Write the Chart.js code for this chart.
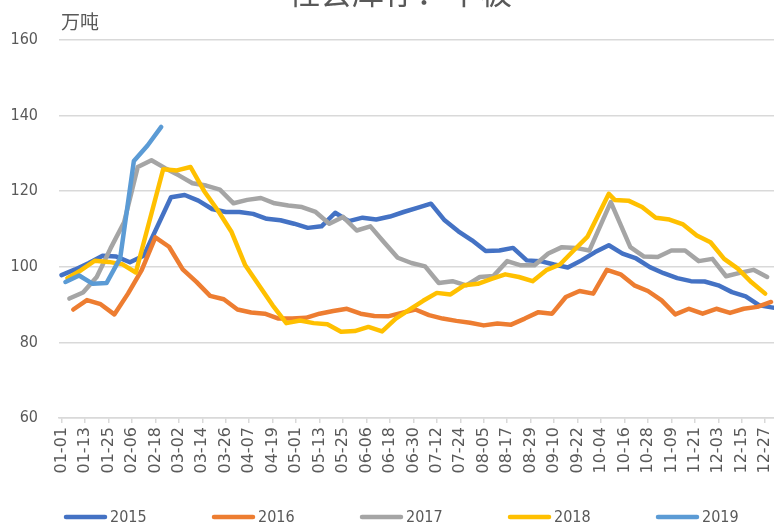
<!DOCTYPE html>
<html>
<head>
<meta charset="utf-8">
<script src="https://cdn.jsdelivr.net/npm/chart.js@4/dist/chart.umd.min.js"></script>
<style>
  body { margin: 0; background: #fff; }
  canvas { display: block; }
</style>
</head>
<body>
<canvas id="chart" width="774" height="526"></canvas>
<script>
// weekly stock, 万吨, by release date (MM-DD) for each year
const dates2015 = ['01-01','01-08','01-15','01-22','01-29','02-05','02-12','02-26','03-05','03-12','03-19','03-26',
  '04-02','04-09','04-16','04-23','04-30','05-07','05-14','05-21','05-28','06-04','06-11','06-18','06-25',
  '07-02','07-09','07-16','07-23','07-30','08-06','08-13','08-20','08-27','09-03','09-10','09-17','09-24',
  '10-01','10-08','10-15','10-22','10-29','11-05','11-12','11-19','11-26','12-03','12-10','12-17','12-24','12-31'];
const values2015 = [97.8,99.3,101,102.9,102.7,101.2,102.9,118.4,119,117.5,115.3,114.5,
  114.5,114,112.7,112.3,111.4,110.3,110.7,114.3,112.1,113,112.5,113.3,114.5,
  115.6,116.7,112.3,109.4,107,104.2,104.3,105,101.7,101.5,100.6,99.8,101.7,
  103.9,105.7,103.5,102.2,99.9,98.3,97,96.2,96.1,95.1,93.3,92.2,89.8,89.2];

const dates2016 = ['01-07','01-14','01-21','01-28','02-04','02-11','02-18','02-25','03-03','03-10','03-17','03-24','03-31',
  '04-07','04-14','04-21','04-28','05-05','05-12','05-19','05-26','06-02','06-09','06-16','06-23','06-30',
  '07-07','07-14','07-21','07-28','08-04','08-11','08-18','08-25','09-01','09-08','09-15','09-22','09-29',
  '10-06','10-13','10-20','10-27','11-03','11-10','11-17','11-24','12-01','12-08','12-15','12-22','12-29'];
const values2016 = [88.7,91.2,90.1,87.4,92.9,99.1,107.8,105.3,99.3,96,92.3,91.4,88.7,
  87.9,87.6,86.3,86.3,86.5,87.6,88.3,88.9,87.6,87,86.9,87.8,88.7,
  87.2,86.3,85.7,85.2,84.5,85,84.7,86.3,88,87.6,92,93.6,92.9,
  99.2,98,95.1,93.6,91.1,87.4,88.9,87.6,88.9,87.8,88.9,89.4,90.7];

const dates2017 = ['01-05','01-12','01-19','01-26','02-02','02-09','02-16','02-23','03-02','03-09','03-16','03-23','03-30',
  '04-06','04-13','04-20','04-27','05-04','05-11','05-18','05-25','06-01','06-08','06-15','06-22','06-29',
  '07-06','07-13','07-20','07-27','08-03','08-10','08-17','08-24','08-31','09-07','09-14','09-21','09-28',
  '10-09','10-19','10-26','11-02','11-09','11-16','11-23','11-30','12-07','12-14','12-21','12-28'];
const values2017 = [91.6,93.2,97.3,104.8,111.8,126.4,128.2,126.1,124.2,122.1,121.5,120.4,116.8,
  117.7,118.2,116.8,116.2,115.8,114.5,111.4,113.2,109.6,110.7,106.5,102.4,101,
  100.1,95.7,96.2,95.1,97.3,97.6,101.5,100.4,100.4,103.5,105.2,105,104.3,
  117.1,105.2,102.7,102.6,104.3,104.3,101.5,102.1,97.5,98.4,99.2,97.3];

const dates2018 = ['01-04','01-11','01-18','01-25','02-01','02-08','02-22','03-01','03-08','03-15','03-22','03-29',
  '04-05','04-12','04-19','04-26','05-03','05-10','05-17','05-24','05-31','06-07','06-14','06-21','06-28',
  '07-05','07-12','07-19','07-26','08-02','08-09','08-16','08-23','08-30','09-06','09-13','09-20','09-27',
  '10-08','10-11','10-18','10-25','11-01','11-08','11-15','11-22','11-29','12-06','12-13','12-20','12-27'];
const values2018 = [97,99.1,101.6,101.3,100.7,98.5,125.8,125.5,126.4,120,114.9,109.2,
  100.4,95.1,89.8,85.1,85.8,85.1,84.8,82.8,83,84.1,82.9,86.3,88.7,
  91,93.1,92.7,95.1,95.5,96.8,98,97.3,96.2,99.1,100.6,104.3,107.9,
  119.3,117.7,117.5,115.8,113,112.5,111.2,108.3,106.5,102.1,99.5,95.9,92.9];

const dates2019 = ['01-03','01-10','01-17','01-24','01-31','02-07','02-14','02-21'];
const values2019 = [96,97.7,95.5,95.7,102.3,128,132.1,137];

const years = ['2015', '2016', '2017', '2018', '2019'];
const colors = ['#4472C4', '#ED7D31', '#A5A5A5', '#FFC000', '#5B9BD5'];
const yTicks = [60, 80, 100, 120, 140, 160];
const tickEvery = 12; // days between axis labels

const textColor = '#595959';
const narrow = '"DejaVu Sans Condensed", "Liberation Sans", sans-serif';

function dayOfYear(year, md) {
  const [m, d] = md.split('-').map(Number);
  return (Date.UTC(year, m - 1, d) - Date.UTC(year, 0, 1)) / 86400000;
}

function toPoints(year, dates, values) {
  return dates.map((md, i) => ({ x: dayOfYear(year, md), y: values[i] }));
}

function mmdd(day) {
  const dt = new Date(Date.UTC(2015, 0, 1 + day));
  return String(dt.getUTCMonth() + 1).padStart(2, '0') + '-' + String(dt.getUTCDate()).padStart(2, '0');
}

const series = [
  [dates2015, values2015],
  [dates2016, values2016],
  [dates2017, values2017],
  [dates2018, values2018],
  [dates2019, values2019]
];

const datasets = series.map(([dates, values], i) => ({
  label: years[i],
  data: toPoints(Number(years[i]), dates, values),
  borderColor: colors[i],
  backgroundColor: colors[i],
  borderWidth: 4.5,
  borderCapStyle: 'round',
  borderJoinStyle: 'round',
  pointRadius: 0,
  tension: 0,
  fill: false,
  order: years.length - i // later years drawn on top
}));

// title, unit and the legend row
const extras = {
  id: 'extras',
  afterDraw(chart) {
    const ctx = chart.ctx;
    ctx.save();
    ctx.fillStyle = textColor;
    ctx.textBaseline = 'alphabetic';
    ctx.textAlign = 'center';
    ctx.font = '32px "Noto Sans CJK SC"';
    ctx.fillText('社会库存：中板', 400, 4);
    ctx.textAlign = 'left';
    ctx.font = '19px "Noto Sans CJK SC"';
    ctx.fillText('万吨', 61, 29);

    const y = 517;
    ctx.font = '16px ' + narrow;
    ctx.textBaseline = 'middle';
    chart.data.datasets.forEach((ds, i) => {
      const x = 64 + 148 * i;
      ctx.strokeStyle = ds.borderColor;
      ctx.lineWidth = 4.5;
      ctx.lineCap = 'round';
      ctx.beginPath();
      ctx.moveTo(x + 2, y);
      ctx.lineTo(x + 41, y);
      ctx.stroke();
      ctx.fillStyle = textColor;
      ctx.fillText(ds.label, x + 46, y + 1);
    });
    ctx.restore();
  }
};

new Chart(document.getElementById('chart'), {
  type: 'line',
  data: { datasets },
  plugins: [extras],
  options: {
    responsive: false,
    animation: false,
    layout: { padding: { top: 40, left: 0, right: 0, bottom: 0 } },
    plugins: {
      tooltip: { enabled: false },
      legend: { display: false }
    },
    scales: {
      x: {
        type: 'linear',
        min: -1.3,
        max: 364.5,
        afterBuildTicks(scale) {
          const ticks = [];
          for (let d = 0; d <= 360; d += tickEvery) ticks.push({ value: d });
          scale.ticks = ticks;
        },
        afterFit(scale) {
          scale.height = 108;
          scale.paddingLeft = 0;
          scale.paddingRight = 0;
        },
        ticks: {
          autoSkip: false,
          minRotation: 90,
          maxRotation: 90,
          padding: 4,
          color: textColor,
          font: { family: 'DejaVu Sans', size: 16 },
          callback: (v) => mmdd(v)
        },
        grid: {
          drawOnChartArea: false,
          drawTicks: true,
          tickLength: 5,
          color: '#d9d9d9',
          lineWidth: 1.5
        },
        border: { display: true, color: '#d9d9d9', width: 1.5 }
      },
      y: {
        min: 60,
        max: 160,
        afterBuildTicks(scale) {
          scale.ticks = yTicks.map(v => ({ value: v }));
        },
        afterFit(scale) {
          scale.width = 59;
          scale.paddingTop = 0;
          scale.paddingBottom = 0;
        },
        ticks: {
          padding: 21,
          color: textColor,
          font: { family: narrow, size: 16 }
        },
        grid: { color: '#d9d9d9', lineWidth: 1.5, drawTicks: false },
        border: { display: false }
      }
    }
  }
});
</script>
</body>
</html>
